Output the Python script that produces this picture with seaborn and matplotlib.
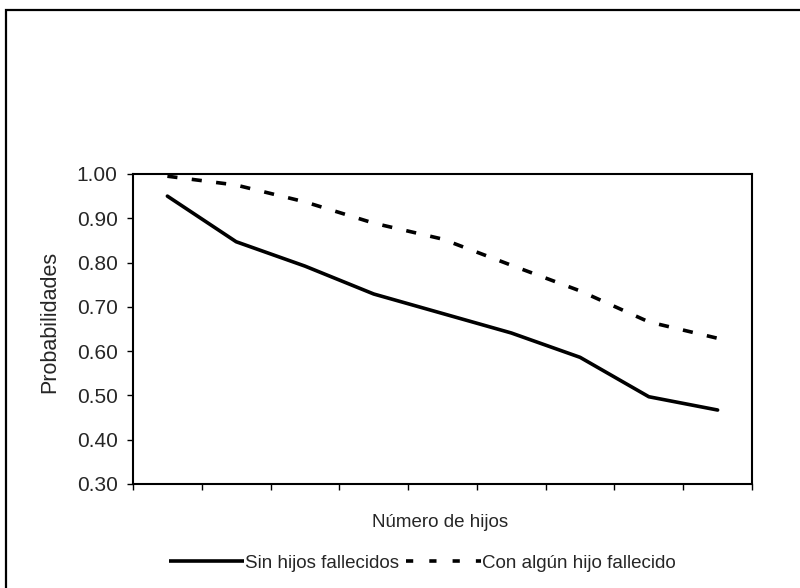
import matplotlib
matplotlib.use("Agg")
import matplotlib.pyplot as plt
from matplotlib.patches import Rectangle
from matplotlib.lines import Line2D
import numpy as np
import pandas as pd
import seaborn as sns

# Number of children (categories along the x axis, not labelled)
hijos = [1, 2, 3, 4, 5, 6, 7, 8, 9]
sin_fallecidos = [0.950, 0.847, 0.792, 0.729, 0.685, 0.641, 0.586, 0.497, 0.467]
con_fallecido = [0.995, 0.975, 0.937, 0.889, 0.853, 0.794, 0.736, 0.666, 0.629]
series_names = ["Sin hijos fallecidos", "Con algún hijo fallecido"]
y_ticks = [0.30, 0.40, 0.50, 0.60, 0.70, 0.80, 0.90, 1.00]

df = pd.concat([
    pd.DataFrame({"hijos": hijos, "prob": sin_fallecidos, "serie": series_names[0]}),
    pd.DataFrame({"hijos": hijos, "prob": con_fallecido, "serie": series_names[1]}),
])

sns.set_theme(style="white")
plt.rcParams["font.family"] = ["Liberation Sans", "DejaVu Sans"]

fig = plt.figure(figsize=(8.0, 5.88), dpi=100)
ax = fig.add_axes([0.16625, 0.1769, 0.77375, 0.5272])

sns.lineplot(data=df, x="hijos", y="prob", hue="serie", style="serie",
             palette=["black", "black"],
             dashes={series_names[0]: "", series_names[1]: (2.8, 4.0)},
             linewidth=2.6, ax=ax, legend=False)

ax.set_xlim(0.5, 9.5)
ax.set_ylim(0.30, 1.00)
ax.set_xticks(np.arange(0.5, 10.0, 1.0))
ax.set_xticklabels([])
ax.set_yticks(y_ticks)
ax.set_yticklabels([f"{v:.2f}" for v in y_ticks], fontsize=15)
ax.tick_params(axis="both", direction="out", length=4.5, width=1.0, color="black",
               left=True, bottom=True, pad=6.5)
for sp in ax.spines.values():
    sp.set_color("black")
    sp.set_linewidth(1.5)

ax.set_xlabel("Número de hijos", fontsize=13.5, va="top")
ax.xaxis.set_label_coords(0.496, -0.097)
ax.set_ylabel("Probabilidades", fontsize=15.5, va="bottom")
ax.yaxis.set_label_coords(-0.118, 0.523)

# Legend keys: the dashed key ends on a short dash next to its label
handles = [
    Line2D([], [], color="black", linewidth=2.6, solid_capstyle="butt"),
    Line2D([], [], color="black", linewidth=2.6, dashes=(2.0, 4.45),
           dash_capstyle="butt"),
]
leg = fig.legend(handles, series_names, loc="center", bbox_to_anchor=(0.528, 0.0425),
                 ncol=2, frameon=False, fontsize=13.5, handlelength=4.0,
                 handletextpad=0.05, columnspacing=0.4, borderpad=0)

# Outer chart frame
fig.patches.append(Rectangle((0.0075, -0.05), 1.2, 0.983 + 0.05,
                             transform=fig.transFigure, fill=False,
                             edgecolor="black", linewidth=1.6))

fig.savefig("out.png", dpi=100, facecolor="white")
